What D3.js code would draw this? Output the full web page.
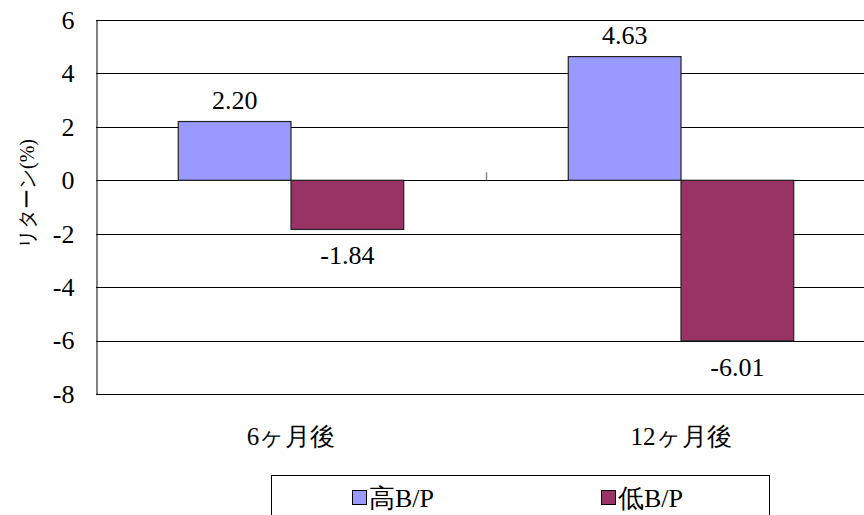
<!DOCTYPE html>
<html><head><meta charset="utf-8">
<script src="https://cdn.jsdelivr.net/npm/d3@7"></script>
<style>body{margin:0;background:#fff}svg{display:block}</style>
</head><body>
<script>
const categories = ["6ヶ月後", "12ヶ月後"];
const seriesNames = ["高B/P", "低B/P"];
const highBP = [2.20, 4.63];
const lowBP = [-1.84, -6.01];
const yTicks = [-8, -6, -4, -2, 0, 2, 4, 6];
const colors = ["#9999ff", "#993366"];

(function () {
const W = 864, H = 515;
const pLeft = 96, pRight = 876, pTop = 20, pBottom = 394;
const font = "Liberation Serif";

const svg = d3.select("body").append("svg").attr("width", W).attr("height", H);

const x = d3.scaleBand().domain(categories).range([pLeft, pRight]).paddingInner(0).paddingOuter(0);
const y = d3.scaleLinear().domain([-8, 6]).range([pBottom, pTop]);
const xs = d3.scaleBand().domain(seriesNames).range([0, x.bandwidth()]).paddingInner(0).paddingOuter(0.73);

// gridlines
svg.append("g").selectAll("line").data(yTicks).join("line")
  .attr("x1", pLeft).attr("x2", pRight)
  .attr("y1", d => Math.round(y(d)) + 0.5).attr("y2", d => Math.round(y(d)) + 0.5)
  .attr("stroke", "#000").attr("stroke-width", 1);

// left axis
const yAxis = d3.axisLeft(y).tickValues(yTicks).tickSize(0).tickPadding(22).tickFormat(d => String(d));
const ga = svg.append("g").attr("transform", `translate(${pLeft + 0.5},0)`).call(yAxis);
ga.attr("font-family", font).attr("font-size", 26);
ga.select(".domain").attr("stroke", "#000");
ga.selectAll("text").attr("font-family", font).attr("font-size", 26).attr("fill", "#000");

// bars
const data = [];
categories.forEach((c, i) => {
  data.push({cat: c, s: seriesNames[0], v: highBP[i], color: colors[0]});
  data.push({cat: c, s: seriesNames[1], v: lowBP[i], color: colors[1]});
});
svg.append("g").selectAll("rect").data(data).join("rect")
  .attr("x", d => x(d.cat) + xs(d.s))
  .attr("width", xs.bandwidth())
  .attr("y", d => y(Math.max(0, d.v)))
  .attr("height", d => Math.abs(y(d.v) - y(0)))
  .attr("fill", d => d.color).attr("stroke", "#222").attr("stroke-width", 1.2);

// category tick
svg.append("line").attr("x1", x(categories[1]) + 0.5).attr("x2", x(categories[1]) + 0.5)
  .attr("y1", y(0) - 8).attr("y2", y(0)).attr("stroke", "#888").attr("stroke-width", 1.5);

// value labels
svg.append("g").selectAll("text").data(data).join("text")
  .attr("x", d => x(d.cat) + xs(d.s) + xs.bandwidth() / 2)
  .attr("y", d => d.v >= 0 ? y(d.v) - 13 : y(d.v) + 35)
  .attr("text-anchor", "middle").attr("font-family", font).attr("font-size", 26)
  .text(d => d.v.toFixed(2));

// category labels
svg.append("g").selectAll("text").data(categories).join("text")
  .attr("x", d => x(d) + x.bandwidth() / 2).attr("y", 445)
  .attr("text-anchor", "middle").attr("font-family", font).attr("font-size", 25)
  .text(d => d);

// y axis title
svg.append("text").attr("transform", `translate(34,194) rotate(-90)`)
  .attr("text-anchor", "middle").attr("font-family", font).attr("font-size", 20)
  .text("リターン(%)");

// legend
svg.append("rect").attr("x", 271.5).attr("y", 475.5).attr("width", 498).attr("height", 60)
  .attr("fill", "#fff").attr("stroke", "#000");
const lg = svg.append("g").selectAll("g").data(seriesNames).join("g")
  .attr("transform", (d, i) => `translate(${[352, 601][i]},0)`);
lg.append("rect").attr("x", 0.5).attr("y", 490.5).attr("width", 14).attr("height", 14)
  .attr("fill", (d, i) => colors[i]).attr("stroke", "#000");
lg.append("text").attr("x", 17).attr("y", 507).attr("font-family", font).attr("font-size", 26)
  .text(d => d);
})();
</script>
</body></html>
